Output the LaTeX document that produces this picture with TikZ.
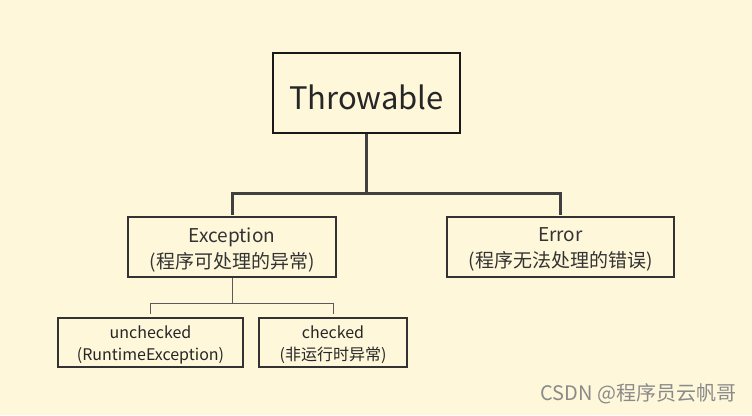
\documentclass[tikz,border=0pt]{standalone}
\usepackage{fontspec}
\setmainfont{Noto Sans CJK SC}
\definecolor{bg}{HTML}{FEF7DA}
\definecolor{thick}{HTML}{404040}
\definecolor{thin}{HTML}{5A5A5A}
\definecolor{boxline}{HTML}{333333}
\definecolor{wm}{HTML}{8A8A8A}
\begin{document}
\begin{tikzpicture}[x=1pt,y=-1pt,
  topbox/.style={draw=black!90,line width=2.2pt,minimum width=187pt,minimum height=80pt,inner sep=0pt},
  midbox/.style={draw=boxline,line width=1.3pt,minimum height=60pt,inner sep=0pt},
  lowbox/.style={draw=boxline,line width=1.2pt,minimum height=49pt,inner sep=0pt},
  toptext/.style={inner sep=0pt,font=\fontsize{31}{36}\selectfont,text=black!85},
  midtext/.style={inner sep=0pt,align=center,font=\fontsize{19}{26}\selectfont,text=black!80},
  lowtext/.style={inner sep=0pt,align=center,font=\fontsize{16}{22}\selectfont,text=black!85},
  thickline/.style={draw=thick,line width=3pt},
  thinline/.style={draw=thin,line width=1pt}]
\fill[bg] (0,0) rectangle (752,415);
\useasboundingbox (0,0) rectangle (752,415);

\node[topbox] (thr) at (366.5,93) {};
\node[toptext] (thrt) at (366.5,97.5) {Throwable};
\node[midbox,minimum width=208pt] (exc) at (232,247) {};
\node[midtext] (exct) at (232,249.5) {Exception\\(程序可处理的异常)};
\node[midbox,minimum width=227pt] (err) at (560.5,247) {};
\node[midtext] (errt) at (560.5,249.5) {Error\\(程序无法处理的错误)};
\node[lowbox,minimum width=185pt] (unc) at (150.5,342.5) {};
\node[lowtext] (unct) at (150.5,345) {unchecked\\(RuntimeException)};
\node[lowbox,minimum width=148pt] (chk) at (333,342.5) {};
\node[lowtext] (chkt) at (333,345) {checked\\(非运行时异常)};

\draw[thickline] (thr.south) -- ++(0,59) coordinate (j1);
\draw[thickline,shorten >=1.5pt] (j1) -| (exc.north);
\draw[thickline,shorten >=1.5pt] (j1) -| (err.north);

\draw[thinline] (exc.south) -- ++(0,26) coordinate (j2);
\draw[thinline,shorten >=3.5pt] (j2) -| (unc.north);
\draw[thinline,shorten >=3.5pt] (j2) -| (chk.north);

\node[text=wm,font=\fontsize{20}{22}\selectfont,anchor=east] (wmk) at (740,394) {CSDN @程序员云帆哥};
\end{tikzpicture}
\end{document}
